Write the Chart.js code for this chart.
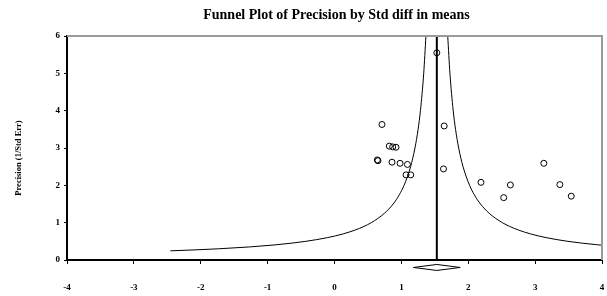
<!DOCTYPE html>
<html>
<head>
<meta charset="utf-8">
<script src="https://cdn.jsdelivr.net/npm/chart.js@4/dist/chart.umd.min.js"></script>
<style>
  html, body { margin: 0; padding: 0; background: #ffffff; }
  #wrap { width: 607px; height: 296px; }
</style>
</head>
<body>
<div id="wrap"><canvas id="c" width="607" height="296"></canvas></div>
<script>
// Studies: Std diff in means (x) and Precision 1/SE (y)
const studyX = [1.53, 0.71, 0.82, 0.87, 0.92, 0.64, 0.65, 0.86, 0.98, 1.09, 1.07, 1.14, 1.64, 1.63, 2.19, 2.63, 2.53, 3.13, 3.37, 3.54];
const studyY = [5.55, 3.63, 3.05, 3.03, 3.02, 2.68, 2.66, 2.62, 2.59, 2.56, 2.28, 2.28, 3.59, 2.44, 2.08, 2.01, 1.67, 2.59, 2.02, 1.71];

// Combined effect (vertical line)
const pooledX = [1.53, 1.53];
const pooledY = [0, 6];

// Funnel limits
const funnelLeftY  = [6, 5, 4, 3.5, 3, 2.5, 2, 1.75, 1.5, 1.25, 1, 0.9, 0.8, 0.7, 0.6, 0.5, 0.45, 0.4, 0.35, 0.3, 0.27, 0.246];
const funnelLeftX  = [1.367, 1.334, 1.285, 1.25, 1.203, 1.138, 1.04, 0.97, 0.877, 0.746, 0.55, 0.441, 0.305, 0.13, -0.103, -0.43, -0.648, -0.92, -1.27, -1.737, -2.10, -2.454];
const funnelRightY = [6, 5, 4, 3.5, 3, 2.5, 2, 1.75, 1.5, 1.25, 1, 0.9, 0.8, 0.7, 0.6, 0.5, 0.45, 0.41, 0.39];
const funnelRightX = [1.693, 1.726, 1.775, 1.81, 1.857, 1.922, 2.02, 2.09, 2.183, 2.314, 2.51, 2.619, 2.755, 2.93, 3.163, 3.49, 3.708, 3.92, 4.043];

// Summary diamond below the axis
const diamondX = [1.18, 1.53, 1.88, 1.53, 1.18];
const diamondY = [-0.2, -0.12, -0.2, -0.28, -0.2];

const titleText = 'Funnel Plot of Precision by Std diff in means';
const yTitle = 'Precision (1/Std Err)';

const zip = (xs, ys) => xs.map((x, i) => ({ x: x, y: ys[i] }));

const serif = '"Liberation Serif", "Times New Roman", serif';

const framePlugin = {
  id: 'frame',
  afterDatasetsDraw(chart) {
    const { ctx, chartArea: a } = chart;
    ctx.save();
    ctx.strokeStyle = '#9a9a9a';
    ctx.lineWidth = 2;
    ctx.beginPath();
    ctx.moveTo(a.left, a.top);
    ctx.lineTo(a.right, a.top);
    ctx.lineTo(a.right, a.bottom);
    ctx.stroke();
    ctx.restore();
  },
  afterDraw(chart) {
    const { ctx, chartArea: a } = chart;
    ctx.save();
    ctx.fillStyle = '#000';
    ctx.textAlign = 'center';
    ctx.textBaseline = 'middle';
    // chart title, centred over the plot area
    ctx.font = 'bold 14px ' + serif;
    ctx.fillText(titleText, (a.left + a.right) / 2 + 2, 15);
    // y-axis title
    ctx.font = 'bold 8.5px ' + serif;
    ctx.translate(19, (a.top + a.bottom) / 2 + 10);
    ctx.rotate(-Math.PI / 2);
    ctx.fillText(yTitle, 0, 0);
    ctx.restore();
  }
};

new Chart(document.getElementById('c'), {
  type: 'scatter',
  data: {
    datasets: [
      {
        label: 'Funnel left',
        data: zip(funnelLeftX, funnelLeftY),
        showLine: true,
        borderColor: '#000',
        borderWidth: 1,
        pointRadius: 0,
        cubicInterpolationMode: 'monotone',
        fill: false
      },
      {
        label: 'Funnel right',
        data: zip(funnelRightX, funnelRightY),
        showLine: true,
        borderColor: '#000',
        borderWidth: 1,
        pointRadius: 0,
        cubicInterpolationMode: 'monotone',
        fill: false
      },
      {
        label: 'Combined',
        data: zip(pooledX, pooledY),
        showLine: true,
        borderColor: '#000',
        borderWidth: 2,
        pointRadius: 0
      },
      {
        label: 'Diamond',
        data: zip(diamondX, diamondY),
        showLine: true,
        borderColor: '#000',
        borderWidth: 1,
        pointRadius: 0,
        clip: false
      },
      {
        label: 'Studies',
        data: zip(studyX, studyY),
        showLine: false,
        pointRadius: 3,
        pointBorderWidth: 1,
        pointBorderColor: '#000',
        pointBackgroundColor: 'rgba(0,0,0,0)'
      }
    ]
  },
  options: {
    responsive: false,
    animation: false,
    devicePixelRatio: 1,
    layout: { padding: { left: 0, right: 4, top: 36, bottom: 0 } },
    plugins: {
      legend: { display: false },
      tooltip: { enabled: false },
      title: { display: false }
    },
    scales: {
      x: {
        type: 'linear',
        min: -4,
        max: 4,
        afterFit(s) { s.height = 36; s.paddingLeft = 3; s.paddingRight = 3; },
        ticks: {
          stepSize: 1,
          color: '#000',
          padding: 18,
          maxRotation: 0,
          font: { family: serif, size: 9, weight: 'bold' }
        },
        grid: { drawOnChartArea: false, drawTicks: true, tickLength: 4, color: '#000' },
        border: { display: true, color: '#000', width: 2 }
      },
      y: {
        type: 'linear',
        min: 0,
        max: 6,
        afterFit(s) { s.width = 67; },
        ticks: {
          stepSize: 1,
          color: '#000',
          padding: 4,
          font: { family: serif, size: 9, weight: 'bold' }
        },
        grid: { drawOnChartArea: false, drawTicks: true, tickLength: 3, color: '#000' },
        border: { display: true, color: '#000', width: 2 }
      }
    }
  },
  plugins: [framePlugin]
});
</script>
</body>
</html>
